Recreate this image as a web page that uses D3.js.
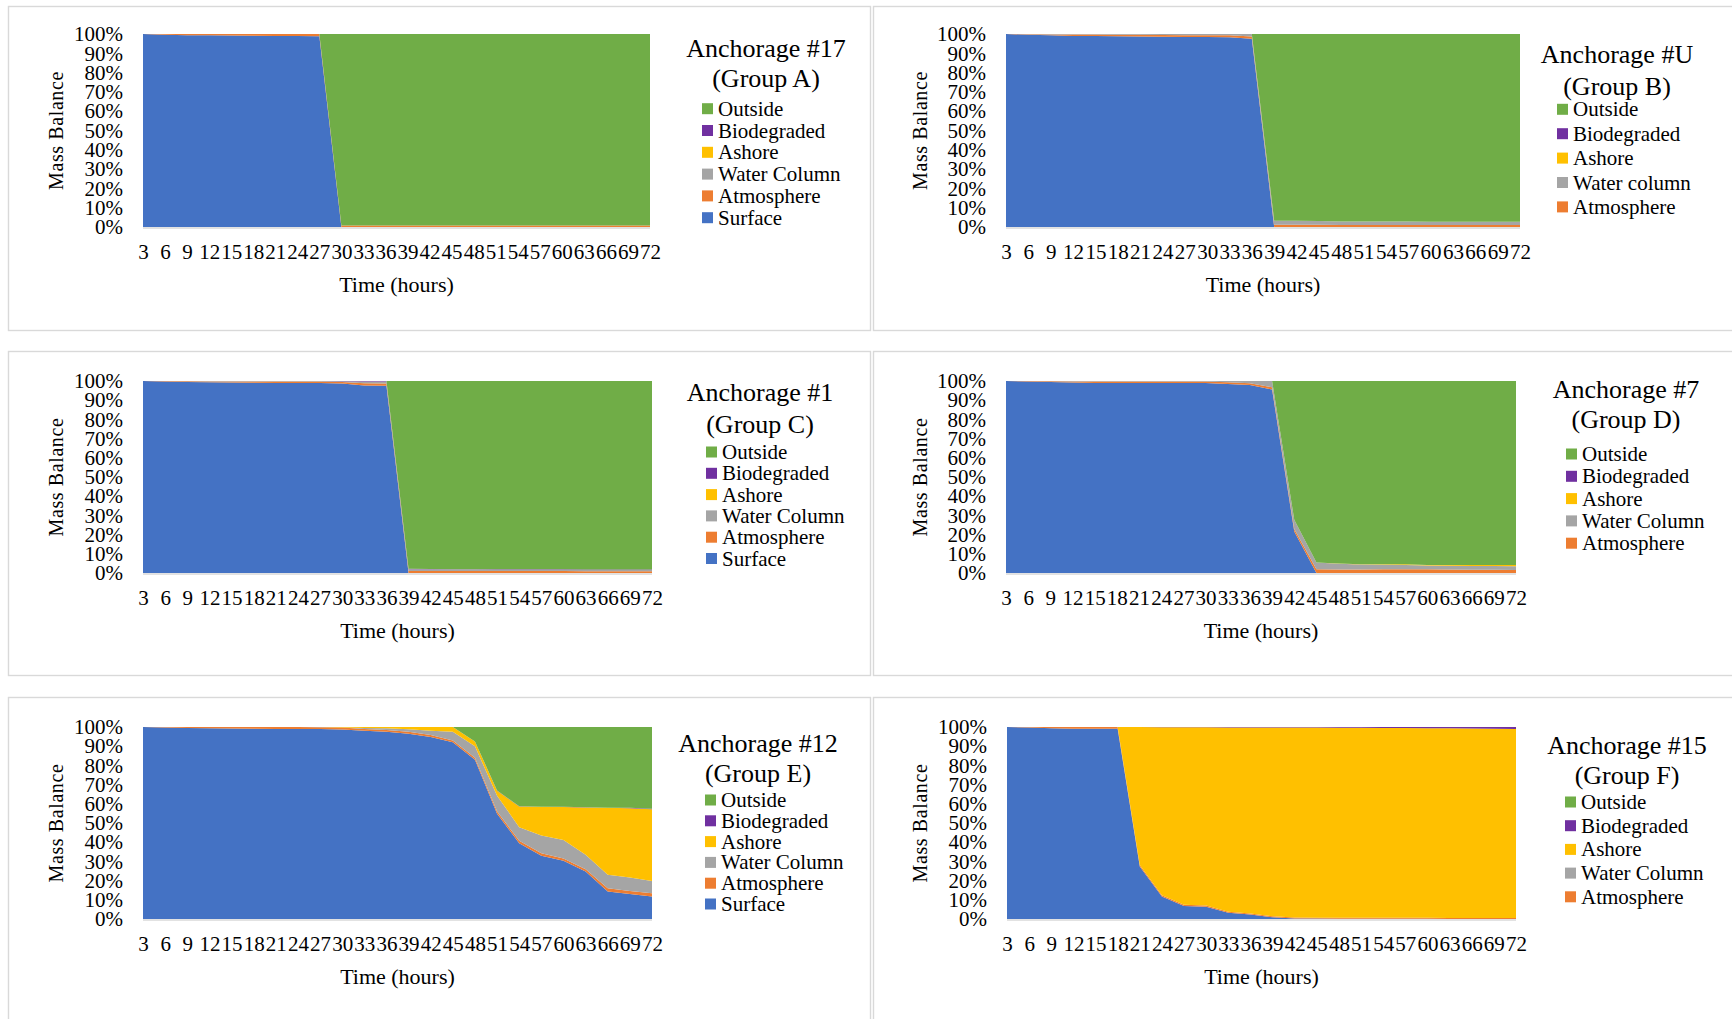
<!DOCTYPE html>
<html>
<head>
<meta charset="utf-8">
<script src="https://cdn.jsdelivr.net/npm/d3@7"></script>
<style>
  html, body { margin: 0; padding: 0; background: #fff; overflow: hidden; }
  svg { display: block; font-family: "Liberation Serif", "Times New Roman", serif; }
</style>
</head>
<body>
<svg id="chart" width="1732" height="1019"></svg>
<script>
// ---- data -------------------------------------------------------------
const hours = [3, 6, 9, 12, 15, 18, 21, 24, 27, 30, 33, 36, 39, 42, 45, 48, 51, 54, 57, 60, 63, 66, 69, 72];
const yTicks = [0, 0.1, 0.2, 0.3, 0.4, 0.5, 0.6, 0.7, 0.8, 0.9, 1];

// stacking order, bottom to top
const seriesNames = ["Surface", "Atmosphere", "Water Column", "Ashore", "Biodegraded", "Outside"];

// Anchorage #17 (Group A), percent of mass
const surfaceA     = [100, 99.6, 99.4, 99.3, 99.2, 99.1, 99.0, 98.9, 98.8, 0, 0, 0, 0, 0, 0, 0, 0, 0, 0, 0, 0, 0, 0, 0];
const atmosphereA  = [0, 0.4, 0.6, 0.7, 0.8, 0.9, 1.0, 1.1, 1.2, 0.8, 0.8, 0.8, 0.8, 0.8, 0.8, 0.8, 0.8, 0.8, 0.8, 0.8, 0.8, 0.8, 0.8, 0.8];
const waterColA    = [0, 0, 0, 0, 0, 0, 0, 0, 0, 0, 0, 0, 0, 0, 0, 0, 0, 0, 0, 0, 0, 0, 0, 0];
const ashoreA      = [0, 0, 0, 0, 0, 0, 0, 0, 0, 0, 0, 0, 0, 0, 0, 0, 0, 0, 0, 0, 0, 0, 0, 0];
const biodegA      = [0, 0, 0, 0, 0, 0, 0, 0, 0, 0, 0, 0, 0, 0, 0, 0, 0, 0, 0, 0, 0, 0, 0, 0];
const outsideA     = [0, 0, 0, 0, 0, 0, 0, 0, 0, 99.2, 99.2, 99.2, 99.2, 99.2, 99.2, 99.2, 99.2, 99.2, 99.2, 99.2, 99.2, 99.2, 99.2, 99.2];

// Anchorage #U (Group B)
const surfaceB     = [100, 99.6, 99.3, 99.0, 98.9, 98.8, 98.7, 98.6, 98.5, 98.4, 98.3, 97.5, 0, 0, 0, 0, 0, 0, 0, 0, 0, 0, 0, 0];
const atmosphereB  = [0, 0.3, 0.5, 0.7, 0.8, 0.8, 0.9, 0.9, 0.9, 1.0, 1.0, 1.2, 1.2, 1.2, 1.2, 1.1, 1.1, 1.1, 1.1, 1.0, 1.0, 1.0, 1.0, 1.0];
const waterColB    = [0, 0.1, 0.2, 0.3, 0.3, 0.4, 0.4, 0.5, 0.6, 0.6, 0.7, 1.3, 2.1, 2.0, 1.9, 1.8, 1.8, 1.7, 1.7, 1.7, 1.7, 1.7, 1.7, 1.7];
const ashoreB      = [0, 0, 0, 0, 0, 0, 0, 0, 0, 0, 0, 0, 0, 0, 0, 0, 0, 0, 0, 0, 0, 0, 0, 0];
const biodegB      = [0, 0, 0, 0, 0, 0, 0, 0, 0, 0, 0, 0, 0, 0, 0, 0, 0, 0, 0, 0, 0, 0, 0, 0];
const outsideB     = [0, 0, 0, 0, 0, 0, 0, 0, 0, 0, 0, 0, 96.7, 96.8, 96.9, 97.1, 97.1, 97.2, 97.2, 97.3, 97.3, 97.3, 97.3, 97.3];

// Anchorage #1 (Group C)
const surfaceC     = [100, 99.7, 99.5, 99.3, 99.2, 99.1, 99.0, 99.0, 98.9, 98.7, 97.6, 97.5, 0, 0, 0, 0, 0, 0, 0, 0, 0, 0, 0, 0];
const atmosphereC  = [0, 0.3, 0.4, 0.5, 0.6, 0.6, 0.7, 0.7, 0.8, 0.8, 1.2, 1.2, 1.1, 1.1, 1.0, 1.0, 1.0, 1.0, 1.0, 1.0, 0.9, 0.9, 0.9, 0.9];
const waterColC    = [0, 0, 0.1, 0.2, 0.2, 0.3, 0.3, 0.3, 0.3, 0.4, 1.0, 1.1, 0.9, 0.8, 0.8, 0.8, 0.7, 0.7, 0.7, 0.7, 0.7, 0.7, 0.7, 0.7];
const ashoreC      = [0, 0, 0, 0, 0, 0, 0, 0, 0, 0, 0, 0, 0, 0, 0, 0, 0, 0, 0, 0, 0, 0, 0, 0];
const biodegC      = [0, 0, 0, 0, 0, 0, 0, 0, 0, 0.1, 0.2, 0.2, 0.2, 0.2, 0.2, 0.2, 0.2, 0.2, 0.2, 0.2, 0.2, 0.2, 0.2, 0.2];
const outsideC     = [0, 0, 0, 0, 0, 0, 0, 0, 0, 0, 0, 0, 97.8, 97.9, 98.0, 98.0, 98.1, 98.1, 98.1, 98.1, 98.2, 98.2, 98.2, 98.2];

// Anchorage #7 (Group D)
const surfaceD     = [100, 99.8, 99.5, 99.2, 99.0, 99.0, 99.0, 99.0, 99.0, 98.9, 98.5, 97.9, 95.6, 21.6, 0, 0, 0, 0, 0, 0, 0, 0, 0, 0];
const atmosphereD  = [0, 0.2, 0.4, 0.6, 0.7, 0.7, 0.8, 0.8, 0.8, 0.8, 0.9, 0.9, 1.1, 1.3, 2.0, 1.8, 1.8, 2.0, 2.0, 1.9, 1.8, 1.7, 1.7, 1.6];
const waterColD    = [0, 0, 0.1, 0.2, 0.3, 0.3, 0.2, 0.2, 0.2, 0.3, 0.6, 1.2, 3.3, 4.8, 3.5, 3.0, 2.6, 2.3, 2.2, 2.0, 2.0, 2.0, 1.9, 1.9];
const ashoreD      = [0, 0, 0, 0, 0, 0, 0, 0, 0, 0, 0, 0, 0, 0, 0, 0.1, 0.2, 0.2, 0.3, 0.3, 0.4, 0.5, 0.6, 0.7];
const biodegD      = [0, 0, 0, 0, 0, 0, 0, 0, 0, 0, 0, 0, 0, 0, 0, 0, 0, 0, 0, 0, 0, 0, 0, 0];
const outsideD     = [0, 0, 0, 0, 0, 0, 0, 0, 0, 0, 0, 0, 0, 72.3, 94.5, 95.1, 95.4, 95.5, 95.5, 95.8, 95.8, 95.8, 95.8, 95.8];

// Anchorage #12 (Group E)
const surfaceE     = [100, 99.8, 99.5, 99.3, 99.2, 99.1, 99.0, 99.0, 98.9, 98.7, 98.0, 97.5, 96.5, 94.8, 92.0, 83.0, 54.8, 39.5, 32.9, 30.3, 24.7, 14.3, 13.0, 11.7];
const atmosphereE  = [0, 0.2, 0.5, 0.7, 0.8, 0.9, 1.0, 1.0, 1.0, 1.0, 1.0, 1.0, 1.0, 1.0, 1.0, 1.0, 1.2, 1.2, 1.4, 1.2, 1.2, 1.7, 1.6, 1.7];
const waterColE    = [0, 0, 0, 0, 0, 0, 0, 0, 0.1, 0.1, 0.5, 0.8, 1.3, 2.2, 4.5, 6.0, 8.2, 7.1, 9.2, 9.7, 7.5, 7.0, 7.0, 6.4];
const ashoreE      = [0, 0, 0, 0, 0, 0, 0, 0, 0, 0.2, 0.5, 0.7, 1.2, 2.0, 2.5, 2.5, 2.6, 10.8, 14.9, 17.1, 24.7, 34.9, 36.1, 37.4];
const biodegE      = [0, 0, 0, 0, 0, 0, 0, 0, 0, 0, 0, 0, 0, 0, 0, 0, 0.1, 0.1, 0.1, 0.1, 0.1, 0.1, 0.2, 0.2];
const outsideE     = [0, 0, 0, 0, 0, 0, 0, 0, 0, 0, 0, 0, 0, 0, 0, 7.5, 33.1, 41.3, 41.5, 41.6, 41.8, 42.0, 42.1, 42.6];

// Anchorage #15 (Group F)
const surfaceF     = [100, 99.7, 99.3, 99.1, 99.1, 99.1, 27.3, 11.7, 6.8, 6.4, 3.3, 2.4, 0.9, 0.3, 0.2, 0.1, 0.1, 0.1, 0.1, 0.1, 0, 0, 0, 0];
const atmosphereF  = [0, 0.3, 0.7, 0.9, 0.9, 0.9, 0.8, 0.7, 0.6, 0.6, 0.5, 0.5, 0.5, 0.5, 0.5, 0.5, 0.5, 0.5, 0.6, 0.5, 0.5, 0.5, 0.5, 0.5];
const waterColF    = [0, 0, 0, 0, 0, 0, 0, 0, 0, 0, 0, 0, 0, 0, 0, 0, 0, 0, 0, 0, 0, 0, 0, 0];
const ashoreF      = [0, 0, 0, 0, 0, 0, 71.9, 87.5, 92.5, 92.9, 96.0, 96.9, 98.3, 98.9, 99.0, 99.0, 99.0, 98.9, 98.8, 98.8, 98.8, 98.7, 98.6, 98.5];
const biodegF      = [0, 0, 0, 0, 0, 0, 0, 0.1, 0.1, 0.1, 0.2, 0.2, 0.3, 0.3, 0.3, 0.4, 0.4, 0.5, 0.5, 0.6, 0.7, 0.8, 0.9, 1.0];
const outsideF     = [0, 0, 0, 0, 0, 0, 0, 0, 0, 0, 0, 0, 0, 0, 0, 0, 0, 0, 0, 0, 0, 0, 0, 0];

// legend entries, top to bottom
const legendFull   = ["Outside", "Biodegraded", "Ashore", "Water Column", "Atmosphere", "Surface"];
const legendB      = ["Outside", "Biodegraded", "Ashore", "Water column", "Atmosphere"];
const legendShort  = ["Outside", "Biodegraded", "Ashore", "Water Column", "Atmosphere"];

// ---- styling ------------------------------------------------------------
const colorOf = {
  "surface": "#4472C4",
  "atmosphere": "#ED7D31",
  "water column": "#A5A5A5",
  "ashore": "#FFC000",
  "biodegraded": "#7030A0",
  "outside": "#70AD47"
};

const panels = [
  { title: ["Anchorage #17", "(Group A)"], values: [surfaceA, atmosphereA, waterColA, ashoreA, biodegA, outsideA], legend: legendFull,
    frame: [8, 6, 862, 324], plot: { l: 143, r: 650, t: 34, b: 227 }, yTitleX: 63,
    titleX: 766, titleY: [57, 87], legX: 702, legY: 108.7, legStep: 21.8 },
  { title: ["Anchorage #U", "(Group B)"], values: [surfaceB, atmosphereB, waterColB, ashoreB, biodegB, outsideB], legend: legendB,
    frame: [873, 6, 880, 324], plot: { l: 1006, r: 1520, t: 34, b: 227 }, yTitleX: 927,
    titleX: 1617, titleY: [63, 95], legX: 1557, legY: 109.3, legStep: 24.4 },
  { title: ["Anchorage #1", "(Group C)"], values: [surfaceC, atmosphereC, waterColC, ashoreC, biodegC, outsideC], legend: legendFull,
    frame: [8, 351, 862, 324], plot: { l: 143, r: 652, t: 381, b: 573 }, yTitleX: 63,
    titleX: 760, titleY: [401, 433], legX: 706, legY: 452, legStep: 21.3 },
  { title: ["Anchorage #7", "(Group D)"], values: [surfaceD, atmosphereD, waterColD, ashoreD, biodegD, outsideD], legend: legendShort,
    frame: [873, 351, 880, 324], plot: { l: 1006, r: 1516, t: 381, b: 573 }, yTitleX: 927,
    titleX: 1626, titleY: [398, 428], legX: 1566, legY: 454, legStep: 22.3 },
  { title: ["Anchorage #12", "(Group E)"], values: [surfaceE, atmosphereE, waterColE, ashoreE, biodegE, outsideE], legend: legendFull,
    frame: [8, 697, 862, 340], plot: { l: 143, r: 652, t: 727, b: 919 }, yTitleX: 63,
    titleX: 758, titleY: [752, 782], legX: 705, legY: 800, legStep: 20.8 },
  { title: ["Anchorage #15", "(Group F)"], values: [surfaceF, atmosphereF, waterColF, ashoreF, biodegF, outsideF], legend: legendShort,
    frame: [873, 697, 880, 340], plot: { l: 1007, r: 1516, t: 727, b: 919 }, yTitleX: 927,
    titleX: 1627, titleY: [754, 784], legX: 1565, legY: 802, legStep: 23.7 }
];

// ---- drawing ------------------------------------------------------------
const svg = d3.select("#chart");

panels.forEach(p => {
  const g = svg.append("g");

  // chart frame
  g.append("rect")
    .attr("x", p.frame[0] + 0.5).attr("y", p.frame[1] + 0.5)
    .attr("width", p.frame[2]).attr("height", p.frame[3])
    .attr("fill", "none").attr("stroke", "#d9d9d9").attr("stroke-width", 1.4);

  const x = d3.scalePoint().domain(hours).range([p.plot.l, p.plot.r]);
  const y = d3.scaleLinear().domain([0, 1]).range([p.plot.b, p.plot.t]);

  // rows of {hour, series...}
  const rows = hours.map((h, i) => {
    const r = { hour: h };
    seriesNames.forEach((s, k) => { r[s] = p.values[k][i]; });
    return r;
  });

  const stack = d3.stack().keys(seriesNames).offset(d3.stackOffsetExpand);
  const layers = stack(rows);

  const area = d3.area()
    .x(d => x(d.data.hour))
    .y0(d => y(d[0]))
    .y1(d => y(d[1]));

  g.append("g").selectAll("path")
    .data(layers)
    .join("path")
    .attr("d", area)
    .attr("fill", d => colorOf[d.key.toLowerCase()]);

  // horizontal axis line
  g.append("line")
    .attr("x1", p.plot.l).attr("x2", p.plot.r)
    .attr("y1", p.plot.b + 1).attr("y2", p.plot.b + 1)
    .attr("stroke", "#d9d9d9").attr("stroke-width", 1.6);

  // y axis labels
  const yAxis = g.append("g")
    .attr("transform", `translate(${p.plot.l},0)`)
    .call(d3.axisLeft(y).tickValues(yTicks).tickFormat(d3.format(".0%")).tickSize(0).tickPadding(20));
  yAxis.select(".domain").remove();
  yAxis.attr("font-family", null).attr("font-size", null);
  yAxis.selectAll("text").attr("font-size", 21).attr("fill", "#000");

  // x axis labels
  const xAxis = g.append("g")
    .attr("transform", `translate(0,${p.plot.b})`)
    .call(d3.axisBottom(x).tickSize(0).tickPadding(17.5));
  xAxis.select(".domain").remove();
  xAxis.attr("font-family", null).attr("font-size", null);
  xAxis.selectAll("text").attr("font-size", 21).attr("fill", "#000");

  // axis titles
  g.append("text")
    .attr("x", (p.plot.l + p.plot.r) / 2)
    .attr("y", p.plot.b + 65)
    .attr("text-anchor", "middle")
    .attr("font-size", 22)
    .text("Time (hours)");

  g.append("text")
    .attr("transform", `translate(${p.yTitleX},${(p.plot.t + p.plot.b) / 2}) rotate(-90)`)
    .attr("text-anchor", "middle")
    .attr("font-size", 20)
    .attr("letter-spacing", 0.6)
    .text("Mass Balance");

  // legend title
  g.selectAll("text.ttl")
    .data(p.title)
    .join("text")
    .attr("class", "ttl")
    .attr("x", p.titleX)
    .attr("y", (d, i) => p.titleY[i])
    .attr("text-anchor", "middle")
    .attr("font-size", 26)
    .text(d => d);

  // legend entries
  const item = g.selectAll("g.leg")
    .data(p.legend)
    .join("g")
    .attr("class", "leg")
    .attr("transform", (d, i) => `translate(${p.legX},${p.legY + i * p.legStep})`);
  item.append("rect")
    .attr("x", 0).attr("y", -5.5)
    .attr("width", 11).attr("height", 11)
    .attr("fill", d => colorOf[d.toLowerCase()]);
  item.append("text")
    .attr("x", 16).attr("y", 7)
    .attr("font-size", 21)
    .text(d => d);
});
</script>
</body>
</html>
